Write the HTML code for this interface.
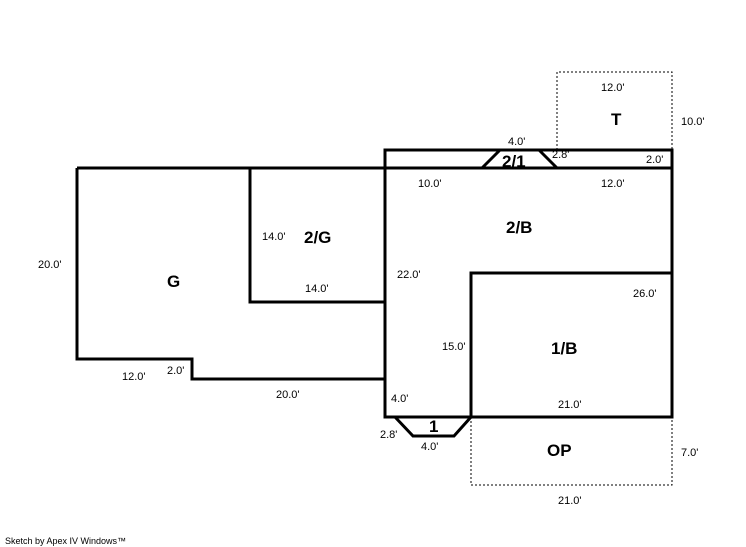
<!DOCTYPE html>
<html><head><style>
body{margin:0;background:#fff;}
svg{display:block;font-family:"Liberation Sans",Arial,sans-serif;}
.s{font-size:11px;fill:#000}
.b{font-size:17px;font-weight:bold;fill:#000}
</style></head><body>
<svg width="746" height="547" viewBox="0 0 746 547">
<g fill="none" stroke="#000" stroke-width="1" stroke-dasharray="2,2">
<polyline points="557,150 557,72 672,72 672,150"/>
<polyline points="471,417 471,485 672,485 672,417"/>
</g>
<g fill="none" stroke="#000" stroke-width="3" stroke-linejoin="miter">
<rect x="385" y="150" width="287" height="267"/>
<line x1="77" y1="168" x2="672" y2="168"/>
<polyline points="77,168 77,359 192,359 192,379 385,379"/>
<polyline points="250,168 250,302 385,302"/>
<polyline points="471,417 471,273 672,273"/>
<polyline points="482,168 500,150"/>
<polyline points="539,150 557,168"/>
<polyline points="395,417 413,436 454,436 471,417"/>
</g>
<text class="s" x="601" y="91">12.0'</text>
<text class="b" x="611" y="125">T</text>
<text class="s" x="681" y="125">10.0'</text>
<text class="s" x="508" y="145">4.0'</text>
<text class="b" x="502" y="167">2/1</text>
<text class="s" x="552" y="158">2.8'</text>
<text class="s" x="646" y="163">2.0'</text>
<text class="s" x="418" y="187">10.0'</text>
<text class="s" x="601" y="187">12.0'</text>
<text class="b" x="506" y="233">2/B</text>
<text class="s" x="262" y="240">14.0'</text>
<text class="b" x="304" y="243">2/G</text>
<text class="s" x="38" y="268">20.0'</text>
<text class="s" x="397" y="278">22.0'</text>
<text class="b" x="167" y="287">G</text>
<text class="s" x="305" y="292">14.0'</text>
<text class="s" x="633" y="297">26.0'</text>
<text class="s" x="442" y="350">15.0'</text>
<text class="b" x="551" y="354">1/B</text>
<text class="s" x="167" y="374">2.0'</text>
<text class="s" x="122" y="380">12.0'</text>
<text class="s" x="276" y="398">20.0'</text>
<text class="s" x="391" y="402">4.0'</text>
<text class="s" x="558" y="408">21.0'</text>
<text class="b" x="429" y="432">1</text>
<text class="s" x="380" y="438">2.8'</text>
<text class="s" x="421" y="450">4.0'</text>
<text class="b" x="547" y="456">OP</text>
<text class="s" x="681" y="456">7.0'</text>
<text class="s" x="558" y="504">21.0'</text>
<text x="5" y="544" style="font-size:9px">Sketch by Apex IV Windows™</text>
</svg>
</body></html>
